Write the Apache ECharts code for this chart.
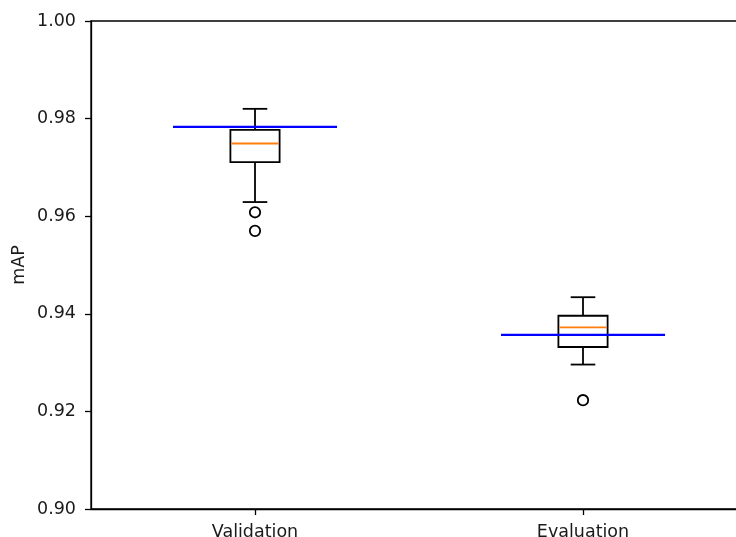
<!DOCTYPE html>
<html>
<head>
<meta charset="utf-8">
<script src="https://cdn.jsdelivr.net/npm/echarts@6/dist/echarts.min.js"></script>
<style>
  html, body { margin: 0; padding: 0; background: #fff; }
  #chart { width: 736px; height: 537px; }
</style>
</head>
<body>
<div id="chart"></div>
<script>
// Box statistics per split
const categories = ['Validation', 'Evaluation'];
const positions = [1, 2];
const whiskerLow = [0.9629, 0.9296];
const q1 = [0.9711, 0.9332];
const median = [0.9749, 0.9372];
const q3 = [0.9777, 0.9396];
const whiskerHigh = [0.9820, 0.9434];
const outliers = [[0.9608, 0.9570], [0.9223]];
// Reference mAP level for each split (blue bar)
const referenceMAP = [0.9783, 0.9357];
const yTicks = [0.90, 0.92, 0.94, 0.96, 0.98, 1.00];

const BOX_W = 0.15;
const REF_HALF = 0.25;
const FONT = 'DejaVu Sans';
const TEXT = '#1a1a1a';
const LW = 1.8;

const boxData = positions.map((p, i) => [p, whiskerLow[i], q1[i], median[i], q3[i], whiskerHigh[i]]);
const refData = positions.map((p, i) => [p, referenceMAP[i]]);
const outlierData = [];
positions.forEach((p, i) => outliers[i].forEach(v => outlierData.push([p, v])));

function renderBox(params, api) {
  const x = api.value(0);
  const lo = api.coord([x, api.value(1)]);
  const b1 = api.coord([x, api.value(2)]);
  const md = api.coord([x, api.value(3)]);
  const b3 = api.coord([x, api.value(4)]);
  const hi = api.coord([x, api.value(5)]);
  const w = api.size([BOX_W, 0])[0];
  const cx = lo[0];
  const line = { stroke: '#000', lineWidth: LW, fill: null };
  return {
    type: 'group',
    children: [
      { type: 'rect', shape: { x: cx - w / 2, y: b3[1], width: w, height: b1[1] - b3[1] }, style: line },
      { type: 'line', shape: { x1: cx, y1: b1[1], x2: cx, y2: lo[1] }, style: line },
      { type: 'line', shape: { x1: cx, y1: b3[1], x2: cx, y2: hi[1] }, style: line },
      { type: 'line', shape: { x1: cx - w / 4, y1: lo[1], x2: cx + w / 4, y2: lo[1] }, style: line },
      { type: 'line', shape: { x1: cx - w / 4, y1: hi[1], x2: cx + w / 4, y2: hi[1] }, style: line },
      { type: 'line', shape: { x1: cx - w / 2 + 1, y1: md[1], x2: cx + w / 2 - 1, y2: md[1] }, style: { stroke: '#ff7f0e', lineWidth: LW } }
    ]
  };
}

function renderRef(params, api) {
  const x = api.value(0);
  const a = api.coord([x - REF_HALF, api.value(1)]);
  const b = api.coord([x + REF_HALF, api.value(1)]);
  return { type: 'line', shape: { x1: a[0], y1: a[1], x2: b[0], y2: b[1] }, style: { stroke: '#0000ff', lineWidth: 2.2 } };
}

function renderFlier(params, api) {
  const c = api.coord([api.value(0), api.value(1)]);
  return { type: 'circle', shape: { cx: c[0], cy: c[1], r: 5.2 }, style: { fill: 'none', stroke: '#000', lineWidth: LW } };
}

const chart = echarts.init(document.getElementById('chart'), null, { renderer: 'canvas' });
chart.setOption({
  animation: false,
  backgroundColor: '#fff',
  grid: { left: 91, right: -11, top: 21, bottom: 28, containLabel: false, outerBoundsMode: 'none',
    show: true, borderColor: '#000', borderWidth: 1.3, backgroundColor: 'transparent' },
  xAxis: {
    type: 'value', min: 0.5, max: 2.5,
    splitLine: { show: false },
    axisLine: { show: true, onZero: false, lineStyle: { color: '#000', width: 1.3 } },
    axisTick: { show: true, length: 6, lineStyle: { color: '#000', width: 1.3 }, customValues: positions },
    axisLabel: { color: TEXT, fontFamily: FONT, fontSize: 17.5, margin: 14, customValues: positions,
      formatter: v => categories[positions.indexOf(v)] || '' }
  },
  yAxis: {
    type: 'value', min: 0.90, max: 1.00, interval: 0.02,
    name: 'mAP', nameLocation: 'middle', nameRotate: 90, nameGap: 63, nameMoveOverlap: false,
    nameTextStyle: { color: TEXT, fontFamily: FONT, fontSize: 17.5 },
    splitLine: { show: false },
    axisLine: { show: true, lineStyle: { color: '#000', width: 1.3 } },
    axisTick: { show: true, length: 6, lineStyle: { color: '#000', width: 1.3 }, customValues: yTicks },
    axisLabel: { color: TEXT, fontFamily: FONT, fontSize: 17.5, margin: 15, customValues: yTicks,
      formatter: v => v.toFixed(2) }
  },
  series: [
    { type: 'custom', renderItem: renderBox, data: boxData, encode: { x: 0, y: [1, 2, 3, 4, 5] }, z: 2 },
    { type: 'custom', renderItem: renderRef, data: refData, encode: { x: 0, y: 1 }, z: 3 },
    { type: 'custom', renderItem: renderFlier, data: outlierData, encode: { x: 0, y: 1 }, z: 4 }
  ]
});
</script>
</body>
</html>
